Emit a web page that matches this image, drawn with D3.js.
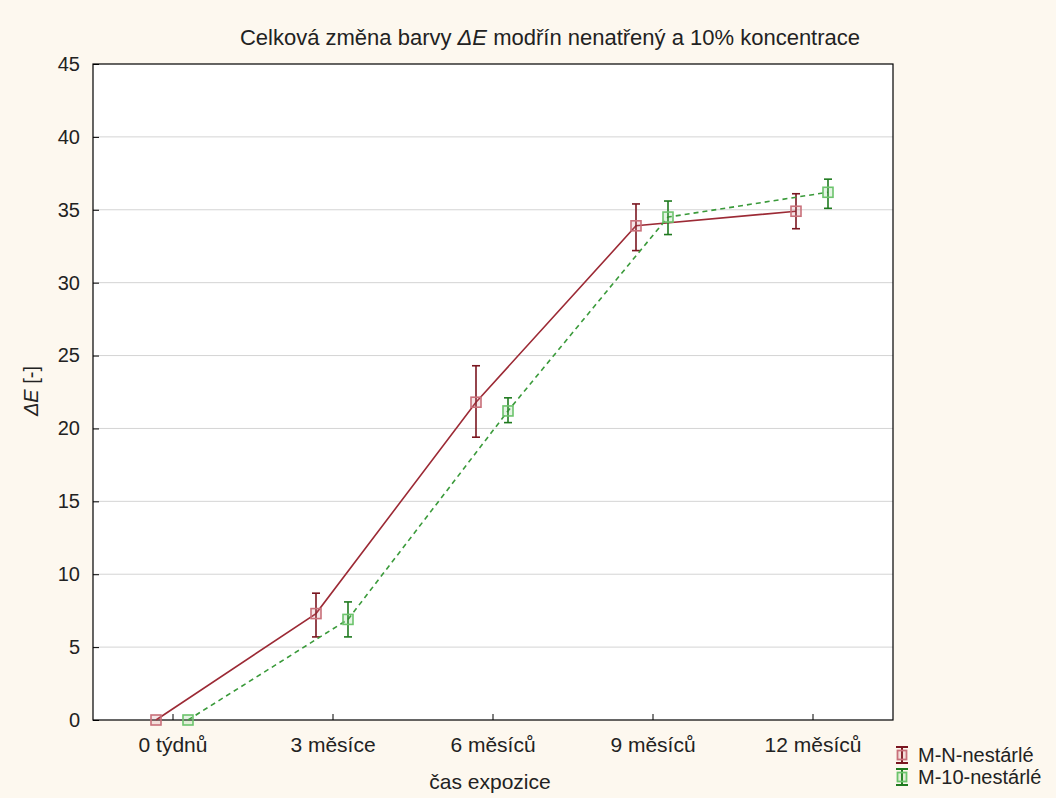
<!DOCTYPE html>
<meta charset="utf-8">
<style>
  body { margin: 0; background: #fdf8ef; }
  svg { display: block; font-family: "Liberation Sans", Arial, sans-serif; }
</style>
<svg width="1056" height="798"></svg>
<script src="https://d3js.org/d3.v7.min.js"></script>
<script>

    var categories = ["0 týdnů", "3 měsíce", "6 měsíců", "9 měsíců", "12 měsíců"];
    var seriesNames = ["M-N-nestárlé", "M-10-nestárlé"];
    // means and error bar limits
    var meanMN  = [0, 7.3, 21.8, 33.9, 34.9];
    var lowMN   = [0, 5.7, 19.4, 32.2, 33.7];
    var highMN  = [0, 8.7, 24.3, 35.4, 36.1];
    var meanM10 = [0, 6.9, 21.2, 34.5, 36.2];
    var lowM10  = [0, 5.7, 20.4, 33.3, 35.1];
    var highM10 = [0, 8.1, 22.1, 35.6, 37.1];
    var yTicks = [0, 5, 10, 15, 20, 25, 30, 35, 40, 45];

    var svg = d3.select("svg"),
        margin = {top: 64, right: 163, bottom: 78, left: 93},
        width = 1056 - margin.left - margin.right,
        height = 798 - margin.top - margin.bottom;

    svg.append("rect").attr("width", 1056).attr("height", 798).attr("fill", "#fdf8ef");
    var g = svg.append("g").attr("transform", "translate(" + margin.left + "," + margin.top + ")");

    var x = d3.scaleBand().domain(categories).range([0, width]);
    var y = d3.scaleLinear().domain([0, 45]).range([height, 0]);

    var series = [
        {name: seriesNames[0], mean: meanMN, low: lowMN, high: highMN, off: -17,
         line: "#9c2a35", bar: "#7a1620", mark: "#c9707a", fill: "rgba(201,112,122,0.18)", dash: null},
        {name: seriesNames[1], mean: meanM10, low: lowM10, high: highM10, off: 15,
         line: "#3a9a3a", bar: "#1f7a1f", mark: "#6cc46c", fill: "rgba(108,196,108,0.18)", dash: "5,4"}
    ];

    g.append("rect").attr("width", width).attr("height", height).attr("fill", "#fff");

    // grid
    g.selectAll(".grid").data(yTicks.slice(1, -1)).enter().append("line")
        .attr("x1", 0).attr("x2", width)
        .attr("y1", function(d) { return y(d); }).attr("y2", function(d) { return y(d); })
        .attr("stroke", "#d4d4d4").attr("stroke-width", 1);

    var yAxis = g.append("g")
        .call(d3.axisLeft(y).tickValues(yTicks).tickSize(-6).tickPadding(13));
    yAxis.select(".domain").remove();
    yAxis.selectAll("text").attr("font-size", 20).attr("fill", "#222").attr("font-family", "Liberation Sans, Arial");

    var xAxis = g.append("g").attr("transform", "translate(0," + height + ")")
        .call(d3.axisBottom(x).tickSize(-6).tickPadding(17));
    xAxis.select(".domain").remove();
    xAxis.selectAll("text").attr("font-size", 21).attr("fill", "#222").attr("font-family", "Liberation Sans, Arial");

    g.append("rect").attr("width", width).attr("height", height)
        .attr("fill", "none").attr("stroke", "#000").attr("stroke-width", 1.2);

    series.forEach(function(s) {
        var cx = function(i) { return x(categories[i]) + x.bandwidth() / 2 + s.off; };
        var line = d3.line()
            .x(function(d, i) { return cx(i); })
            .y(function(d) { return y(d); });
        g.append("path").datum(s.mean)
            .attr("fill", "none").attr("stroke", s.line).attr("stroke-width", 1.6)
            .attr("stroke-dasharray", s.dash).attr("d", line);

        var eb = g.append("g");
        s.mean.forEach(function(m, i) {
            if (s.high[i] - s.low[i] > 0) {
                eb.append("line").attr("x1", cx(i)).attr("x2", cx(i))
                    .attr("y1", y(s.low[i])).attr("y2", y(s.high[i]))
                    .attr("stroke", s.bar).attr("stroke-width", 1.6);
                [s.low[i], s.high[i]].forEach(function(v) {
                    eb.append("line").attr("x1", cx(i) - 4).attr("x2", cx(i) + 4)
                        .attr("y1", y(v)).attr("y2", y(v))
                        .attr("stroke", s.bar).attr("stroke-width", 1.6);
                });
            }
            eb.append("rect").attr("x", cx(i) - 5).attr("y", y(m) - 5)
                .attr("width", 10).attr("height", 10)
                .attr("fill", s.fill).attr("stroke", s.mark).attr("stroke-width", 1.6);
        });
    });

    // title
    var title = svg.append("text").attr("x", 550).attr("y", 45)
        .attr("text-anchor", "middle").attr("font-size", 22).attr("fill", "#222");
    title.append("tspan").text("Celková změna barvy ");
    title.append("tspan").attr("font-style", "italic").text("ΔE");
    title.append("tspan").text(" modřín nenatřený a 10% koncentrace");

    // axis titles
    svg.append("text").attr("x", 490).attr("y", 789).attr("text-anchor", "middle")
        .attr("font-size", 21).attr("fill", "#222").text("čas expozice");
    var yl = svg.append("text").attr("transform", "translate(38,391) rotate(-90)")
        .attr("text-anchor", "middle").attr("font-size", 20).attr("fill", "#222");
    yl.append("tspan").attr("font-style", "italic").text("ΔE");
    yl.append("tspan").text(" [-]");

    // legend
    var legend = svg.selectAll(".legend").data(series).enter().append("g")
        .attr("transform", function(d, i) { return "translate(902," + (755 + i * 22) + ")"; });
    legend.append("line").attr("x1", 0).attr("x2", 0).attr("y1", -8).attr("y2", 8)
        .attr("stroke", function(d) { return d.bar; }).attr("stroke-width", 2);
    legend.append("line").attr("x1", -6).attr("x2", 6).attr("y1", -8).attr("y2", -8)
        .attr("stroke", function(d) { return d.bar; }).attr("stroke-width", 2);
    legend.append("line").attr("x1", -6).attr("x2", 6).attr("y1", 8).attr("y2", 8)
        .attr("stroke", function(d) { return d.bar; }).attr("stroke-width", 2);
    legend.append("rect").attr("x", -4.5).attr("y", -4.5).attr("width", 9).attr("height", 9)
        .attr("fill", function(d) { return d.fill; }).attr("stroke", function(d) { return d.mark; }).attr("stroke-width", 1.8);
    legend.append("text").attr("x", 16).attr("y", 7).attr("font-size", 20).attr("fill", "#222")
        .text(function(d) { return d.name; });

</script>
